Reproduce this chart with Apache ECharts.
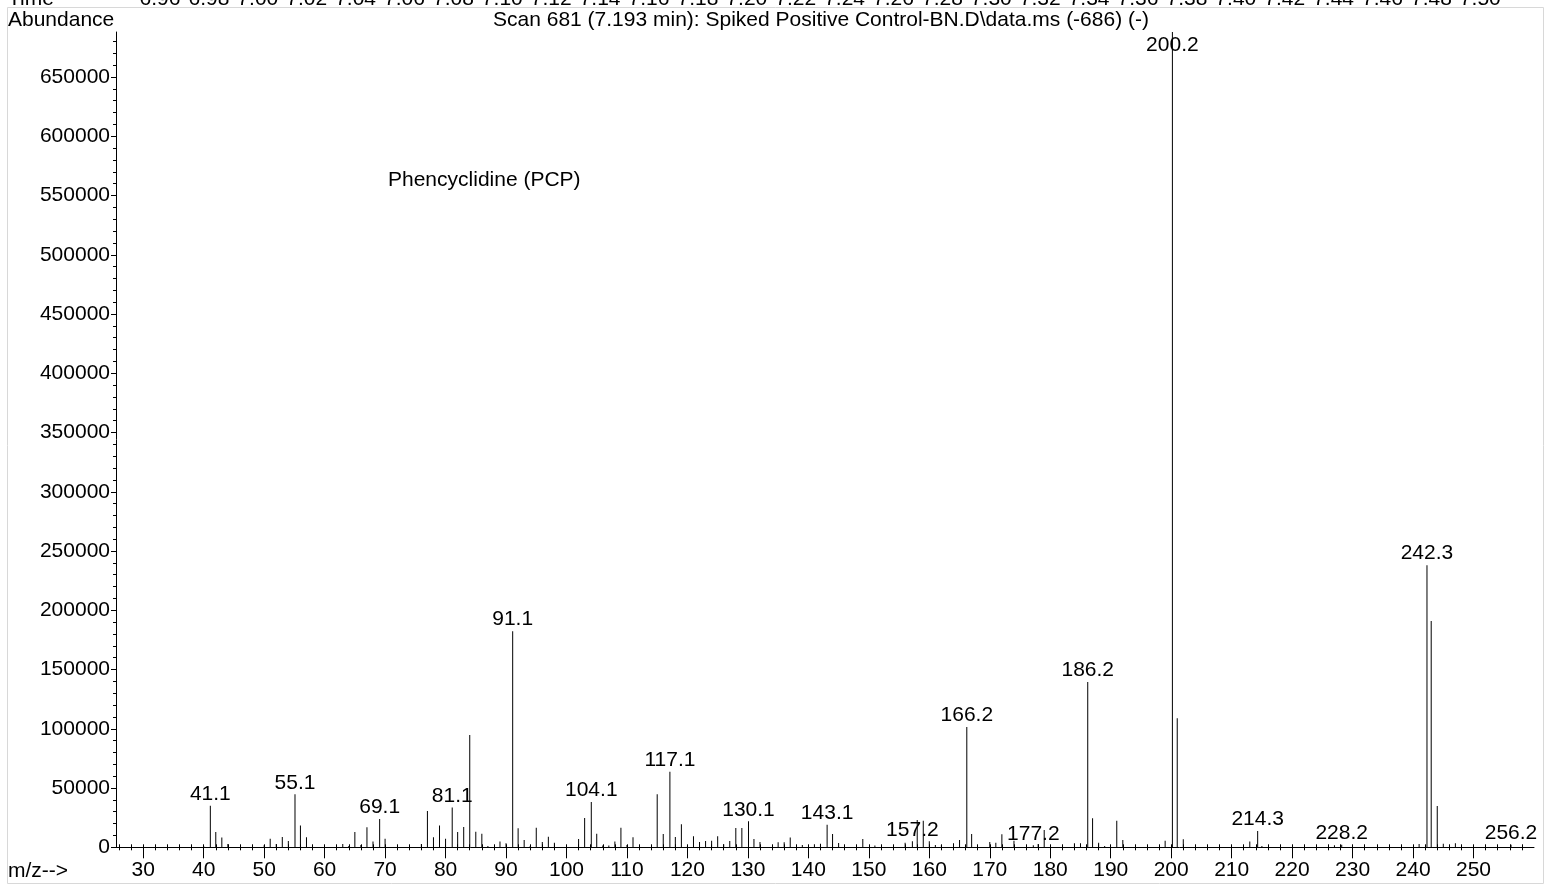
<!DOCTYPE html>
<html>
<head>
<meta charset="utf-8">
<script src="https://cdn.jsdelivr.net/npm/echarts@6/dist/echarts.min.js"></script>
<style>
  html, body { margin: 0; padding: 0; background: #fff; }
  #chart { width: 1551px; height: 888px; }
</style>
</head>
<body>
<div id="chart"></div>
<script>
// Mass spectrum, scan 681 (7.193 min): m/z and abundance of each ion
const mzValues = [
  40, 41.1, 42, 43, 44, 50, 51, 52, 53, 54, 55.1, 56, 57,
  63, 64, 65, 66, 67, 68, 69.1, 70,
  76, 77, 78, 79, 80, 81.1, 82, 83, 84, 85, 86, 87, 89, 90,
  91.1, 92, 93, 94, 95, 96, 97, 98,
  102, 103, 104.1, 105, 106, 107, 108, 109, 110, 111,
  115, 116, 117.1, 118, 119, 120, 121, 122, 123, 124, 125, 126, 127, 128, 129, 130.1, 131, 132,
  135, 136, 137, 139, 141, 142, 143.1, 144, 145, 149, 151,
  156, 157.2, 158, 159, 160, 161, 162, 164, 165, 166.2, 167,
  170, 171, 172, 174, 177.2, 178, 179,
  184, 185, 186.2, 187, 188, 189, 191, 192,
  199, 200.2, 201, 202, 213, 214.3, 215, 227, 228.2,
  241, 242.3, 243, 244, 245, 247, 256.2
];
const abundances = [
  1000, 35100, 12900, 8200, 2800, 1700, 7300, 2800, 8700, 5300, 44700, 18300, 8400,
  2800, 1100, 12900, 2000, 16900, 4800, 23900, 7300,
  2800, 30700, 8400, 18300, 7300, 33500, 12900, 17100, 94700, 13200, 11500, 1000, 4800, 3400,
  182400, 16000, 6200, 1100, 16600, 4500, 9000, 3900,
  7000, 24700, 38200, 11500, 1500, 1500, 4800, 16600, 2000, 8400,
  44700, 11200, 63800, 8700, 19400, 1200, 9300, 4500, 5300, 5600, 9300, 2500, 5300, 16300, 16300, 21900, 7000, 4500,
  4200, 4200, 8200, 2000, 2500, 3000, 19100, 11200, 3700, 7000, 1500,
  3900, 5100, 23100, 22500, 5100, 2000, 2000, 3400, 6200, 101500, 11200,
  4500, 3900, 11000, 5600, 1700, 2800, 14600,
  3400, 3400, 139400, 24500, 3900, 1100, 22500, 6200,
  5600, 688000, 108800, 6700, 4800, 13800, 1100, 1700, 2200,
  2800, 238100, 190900, 34900, 3100, 3400, 2200
];
// Ions whose m/z is printed above the stick
const labelledPeaks = [41.1, 55.1, 69.1, 81.1, 91.1, 104.1, 117.1, 130.1, 143.1, 157.2,
  166.2, 177.2, 186.2, 200.2, 214.3, 228.2, 242.3, 256.2];
const basePeak = 200.2;

// Axis ticks
const xMajorTicks = [30, 40, 50, 60, 70, 80, 90, 100, 110, 120, 130, 140, 150, 160, 170,
  180, 190, 200, 210, 220, 230, 240, 250];
const xMinorTicks = [26, 28, 30, 32, 34, 36, 38, 40, 42, 44, 46, 48, 50, 52, 54, 56, 58, 60,
  62, 64, 66, 68, 70, 72, 74, 76, 78, 80, 82, 84, 86, 88, 90, 92, 94, 96, 98, 100,
  102, 104, 106, 108, 110, 112, 114, 116, 118, 120, 122, 124, 126, 128, 130, 132, 134,
  136, 138, 140, 142, 144, 146, 148, 150, 152, 154, 156, 158, 160, 162, 164, 166, 168,
  170, 172, 174, 176, 178, 180, 182, 184, 186, 188, 190, 192, 194, 196, 198, 200, 202,
  204, 206, 208, 210, 212, 214, 216, 218, 220, 222, 224, 226, 228, 230, 232, 234, 236,
  238, 240, 242, 244, 246, 248, 250, 252, 254, 256, 258];
const yMajorTicks = [0, 50000, 100000, 150000, 200000, 250000, 300000, 350000, 400000,
  450000, 500000, 550000, 600000, 650000];
const yMinorTicks = [10000, 20000, 30000, 40000, 60000, 70000, 80000, 90000, 110000, 120000,
  130000, 140000, 160000, 170000, 180000, 190000, 210000, 220000, 230000, 240000, 260000,
  270000, 280000, 290000, 310000, 320000, 330000, 340000, 360000, 370000, 380000, 390000,
  410000, 420000, 430000, 440000, 460000, 470000, 480000, 490000, 510000, 520000, 530000,
  540000, 560000, 570000, 580000, 590000, 610000, 620000, 630000, 640000, 660000, 670000,
  680000];

// Time axis of the chromatogram panel above (only its lower edge shows)
const timeLabels = ['6.96', '6.98', '7.00', '7.02', '7.04', '7.06', '7.08', '7.10', '7.12',
  '7.14', '7.16', '7.18', '7.20', '7.22', '7.24', '7.26', '7.28', '7.30', '7.32', '7.34',
  '7.36', '7.38', '7.40', '7.42', '7.44', '7.46', '7.48', '7.50'];

const titleText = 'Scan 681 (7.193 min): Spiked Positive Control-BN.D\\data.ms (-686) (-)';
const compoundName = 'Phencyclidine (PCP)';

const FONT = "'Liberation Sans', Arial, sans-serif";
const FS = 21;
const X_MIN = 25.5, X_MAX = 260, Y_MIN = 0, Y_MAX = 688000;

const chart = echarts.init(document.getElementById('chart'), null, { renderer: 'canvas' });

const peakData = mzValues.map((mz, i) => {
  const item = { value: [mz, abundances[i]] };
  if (mz === basePeak) {
    item.label = { show: true, position: 'insideTop', distance: 3 };
  } else if (labelledPeaks.includes(mz)) {
    item.label = { show: true };
  }
  return item;
});

function textEl(text, x, y, align, vAlign) {
  return {
    type: 'text', x: x, y: y, silent: true,
    style: {
      text: text, fill: '#000', fontSize: FS, fontFamily: FONT,
      textAlign: align || 'left', textVerticalAlign: vAlign || 'middle'
    }
  };
}

const graphics = [
  {
    type: 'rect', silent: true, z: -1,
    shape: { x: 7.5, y: 7.5, width: 1536, height: 876 },
    style: { fill: 'none', stroke: '#d8d8d8', lineWidth: 1 }
  },
  textEl('Time', 8, 10, 'left', 'bottom'),
  textEl('Abundance', 8, 20),
  textEl(titleText, 821, 20, 'center'),
  textEl('m/z-->', 8, 871),
  textEl(compoundName, 388, 180)
];
timeLabels.forEach((t, i) => {
  graphics.push(textEl(t, 160 + i * 48.9, 10, 'center', 'bottom'));
});

const xBase = {
  type: 'value', gridIndex: 0, min: X_MIN, max: X_MAX, position: 'bottom', offset: 0,
  splitLine: { show: false }, minorTick: { show: false }
};
const yBase = {
  type: 'value', gridIndex: 0, min: Y_MIN, max: Y_MAX, position: 'left', offset: 0,
  splitLine: { show: false }, minorTick: { show: false }
};

chart.setOption({
  animation: false,
  backgroundColor: '#fff',
  textStyle: { fontFamily: FONT },
  grid: { left: 116, right: 17, top: 32, bottom: 40.7, containLabel: false, outerBoundsMode: 'none' },
  xAxis: [
    Object.assign({}, xBase, {
      axisLine: { show: true, lineStyle: { color: '#000', width: 1 } },
      axisTick: { show: true, customValues: xMajorTicks, length: 11, lineStyle: { color: '#000' } },
      axisLabel: {
        show: true, customValues: xMajorTicks, margin: 12, color: '#000',
        fontSize: FS, fontFamily: FONT, formatter: v => String(v)
      }
    }),
    Object.assign({}, xBase, {
      axisLine: { show: false },
      axisTick: { show: true, customValues: xMinorTicks, inside: true, length: 3, lineStyle: { color: '#000' } },
      axisLabel: { show: false }
    }),
    Object.assign({}, xBase, {
      axisLine: { show: false },
      axisTick: { show: true, customValues: xMinorTicks, inside: false, length: 3, lineStyle: { color: '#000' } },
      axisLabel: { show: false }
    })
  ],
  yAxis: [
    Object.assign({}, yBase, {
      axisLine: { show: true, lineStyle: { color: '#000', width: 1 } },
      axisTick: { show: true, customValues: yMajorTicks, length: 5, lineStyle: { color: '#000' } },
      axisLabel: {
        show: true, customValues: yMajorTicks, margin: 6, color: '#000',
        fontSize: FS, fontFamily: FONT, formatter: v => String(v)
      }
    }),
    Object.assign({}, yBase, {
      axisLine: { show: false },
      axisTick: { show: true, customValues: yMinorTicks, length: 3, lineStyle: { color: '#000' } },
      axisLabel: { show: false }
    })
  ],
  graphic: graphics,
  series: [{
    type: 'bar',
    xAxisIndex: 0,
    yAxisIndex: 0,
    barWidth: 1,
    silent: true,
    itemStyle: { color: '#000' },
    label: {
      show: false, position: 'top', distance: 1, color: '#000',
      fontSize: FS, fontFamily: FONT,
      formatter: p => p.value[0].toFixed(1)
    },
    data: peakData
  }]
});
</script>
</body>
</html>
